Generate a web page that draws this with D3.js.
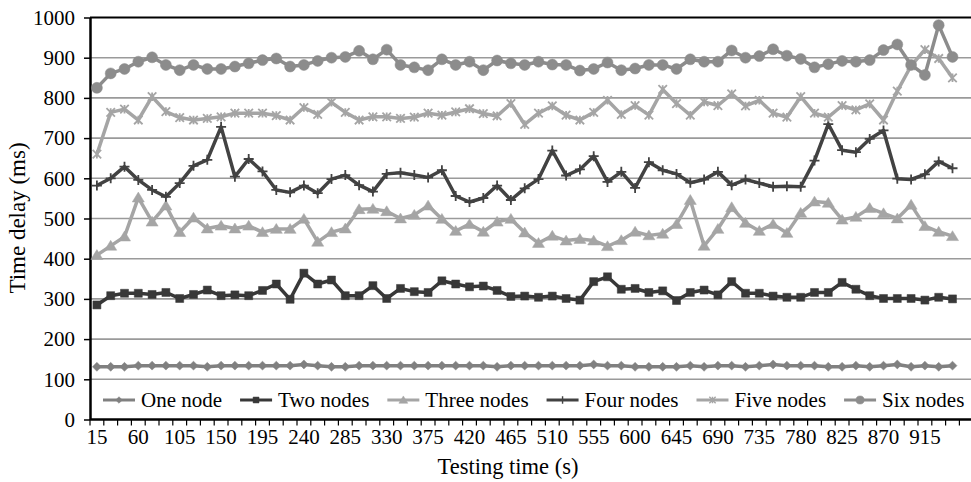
<!DOCTYPE html>
<html>
<head>
<meta charset="utf-8">
<script src="https://cdn.jsdelivr.net/npm/d3@7"></script>
<style>
  body { margin: 0; background: #fff; }
  svg { display: block; }
  text { font-family: "Liberation Serif", "Times New Roman", serif; fill: #000; }
</style>
</head>
<body>
<svg id="chart" width="971" height="482"></svg>
<script>
// ---------- data ----------
const categories = [15,30,45,60,75,90,105,120,135,150,165,180,195,210,225,240,255,270,285,300,315,
  330,345,360,375,390,405,420,435,450,465,480,495,510,525,540,555,570,585,600,615,630,
  645,660,675,690,705,720,735,750,765,780,795,810,825,840,855,870,885,900,915,930,945];
const xTickLabels = [15,60,105,150,195,240,285,330,375,420,465,510,555,600,645,690,735,780,825,870,915];
const yTickValues = [0,100,200,300,400,500,600,700,800,900,1000];
const seriesNames = ["One node","Two nodes","Three nodes","Four nodes","Five nodes","Six nodes"];

const oneNode = [131,131,131,134,134,134,134,134,131,134,134,134,134,134,134,137,134,131,131,134,134,
  134,134,134,134,134,134,134,134,131,134,134,134,134,134,134,137,134,134,131,131,131,
  131,134,131,134,134,131,134,137,134,134,134,131,131,134,131,134,137,131,134,131,134];
const twoNodes = [285,308,314,314,311,316,301,311,322,308,310,308,321,337,299,364,337,347,308,308,333,
  301,326,318,316,345,337,330,332,321,306,307,304,307,301,297,343,355,324,326,316,320,
  296,316,322,310,343,314,314,307,304,304,316,316,341,324,308,301,301,301,297,304,300];
const threeNodes = [409,432,455,552,492,532,466,502,475,482,475,482,466,474,474,499,442,466,475,523,524,
  518,500,509,532,499,469,486,467,492,499,465,439,457,445,449,445,431,446,467,458,462,
  486,546,432,474,528,489,469,486,464,514,542,539,497,504,526,513,500,534,481,467,456];
const fourNodes = [582,600,629,596,571,554,588,631,646,728,604,648,617,571,565,582,563,598,608,583,567,
  611,614,608,602,620,556,541,551,582,546,575,598,669,607,622,655,591,616,576,640,620,
  611,589,597,616,583,597,588,579,580,579,644,735,670,665,698,719,599,597,610,642,625];
const fiveNodes = [660,764,772,745,803,766,751,745,749,753,762,762,762,756,745,776,759,789,764,745,753,
  753,749,752,762,757,765,773,761,755,786,734,762,780,757,745,764,794,759,781,757,821,
  786,757,790,781,810,780,794,762,752,803,762,752,781,770,785,745,817,880,920,898,850];
const sixNodes = [825,861,872,890,901,882,869,882,872,872,878,886,894,898,878,882,892,900,902,917,896,
  920,882,876,869,896,882,890,869,893,886,882,890,883,882,868,872,888,869,873,882,882,
  872,896,890,890,918,900,904,921,905,897,876,884,892,890,894,919,933,882,857,981,902];

// ---------- styling ----------
const colors = ["#808080", "#383838", "#a5a5a5", "#424242", "#a5a5a5", "#8c8c8c"];

const diamond = { draw(ctx, size) { const r = Math.sqrt(size) / 2; ctx.moveTo(0,-r); ctx.lineTo(r,0); ctx.lineTo(0,r); ctx.lineTo(-r,0); ctx.closePath(); } };
const triangle = { draw(ctx, size) { const r = Math.sqrt(size) / 2; ctx.moveTo(0,-r); ctx.lineTo(r*1.1,r*0.8); ctx.lineTo(-r*1.1,r*0.8); ctx.closePath(); } };
const plus = { draw(ctx, size) { const r = Math.sqrt(size) / 2; ctx.moveTo(-r,0); ctx.lineTo(r,0); ctx.moveTo(0,-r); ctx.lineTo(0,r); } };
const asterisk = { draw(ctx, size) { const r = Math.sqrt(size) / 2; ctx.moveTo(-r,-r); ctx.lineTo(r,r); ctx.moveTo(-r,r); ctx.lineTo(r,-r); ctx.moveTo(0,-r); ctx.lineTo(0,r); } };

const markerTypes = [diamond, d3.symbolSquare, triangle, plus, asterisk, d3.symbolCircle];
const markerSizes = [80, 64, 120, 100, 72, 95];
const markerStroked = [false, false, false, true, true, false];

const seriesData = [oneNode, twoNodes, threeNodes, fourNodes, fiveNodes, sixNodes];

// ---------- layout ----------
const svg = d3.select("#chart");
const mLeft = 90, mTop = 17.5, mBottom = 419.5, axisRight = 959.4, plotRight = 971;

const x = d3.scaleBand().domain(categories).range([mLeft, axisRight]).paddingInner(0).paddingOuter(0);
const cx = d => x(d) + x.bandwidth() / 2;
const y = d3.scaleLinear().domain([0, 1000]).range([mBottom, mTop]);

// gridlines
svg.append("g").selectAll("line").data(yTickValues.filter(v => v > 0 && v < 1000)).join("line")
  .attr("x1", mLeft).attr("x2", plotRight)
  .attr("y1", d => y(d)).attr("y2", d => y(d))
  .attr("stroke", "#9a9a9a").attr("stroke-width", 1.6);

// top border
svg.append("line").attr("x1", mLeft).attr("x2", plotRight).attr("y1", y(1000)).attr("y2", y(1000))
  .attr("stroke", "#000").attr("stroke-width", 2);

// y axis
const yAxis = svg.append("g").attr("transform", `translate(${mLeft},0)`)
  .call(d3.axisLeft(y).tickValues(yTickValues).tickFormat(d3.format("d")).tickSize(6).tickPadding(9).tickSizeOuter(0));
yAxis.select(".domain").attr("stroke", "#000").attr("stroke-width", 2.5);
yAxis.selectAll(".tick line").attr("stroke", "#000").attr("stroke-width", 1.5);
yAxis.selectAll("text").attr("font-size", 21).attr("fill", "#000").style("font-family", '"Liberation Serif", serif');

// x axis: baseline
svg.append("line").attr("x1", mLeft).attr("x2", plotRight).attr("y1", mBottom).attr("y2", mBottom)
  .attr("stroke", "#000").attr("stroke-width", 2.5);
// boundary tick marks
const boundaries = categories.map(c => x(c)).concat([x(categories[categories.length - 1]) + x.bandwidth()]);
svg.append("g").selectAll("line").data(boundaries).join("line")
  .attr("x1", d => d).attr("x2", d => d).attr("y1", mBottom).attr("y2", mBottom + 6)
  .attr("stroke", "#000").attr("stroke-width", 1.2);
// labels via axis
const xAxis = svg.append("g").attr("transform", `translate(0,${mBottom})`)
  .call(d3.axisBottom(x).tickValues(xTickLabels).tickSize(0).tickPadding(10));
xAxis.select(".domain").remove();
xAxis.selectAll("text").attr("font-size", 21).attr("fill", "#000").style("font-family", '"Liberation Serif", serif');

// series
const line = d3.line().x((d, i) => cx(categories[i])).y(d => y(d));
seriesData.forEach((vals, s) => {
  const g = svg.append("g");
  g.append("path").datum(vals).attr("d", line).attr("fill", "none")
    .attr("stroke", colors[s]).attr("stroke-width", 3.5).attr("stroke-linejoin", "round");
  const sym = d3.symbol().type(markerTypes[s]).size(markerSizes[s]);
  g.selectAll("path.m").data(vals).join("path").attr("class", "m")
    .attr("transform", (d, i) => `translate(${cx(categories[i])},${y(d)})`)
    .attr("d", sym)
    .attr("fill", markerStroked[s] ? "none" : colors[s])
    .attr("stroke", colors[s])
    .attr("stroke-width", markerStroked[s] ? 1.8 : 0.5);
});

// legend
const legend = svg.append("g");
let lx = 103;
const ly = 400;
seriesNames.forEach((name, s) => {
  const g = legend.append("g");
  g.append("line").attr("x1", lx).attr("x2", lx + 32).attr("y1", ly).attr("y2", ly)
    .attr("stroke", colors[s]).attr("stroke-width", 3);
  g.append("path").attr("transform", `translate(${lx + 16},${ly})`)
    .attr("d", d3.symbol().type(markerTypes[s]).size(markerSizes[s] * 0.55)())
    .attr("fill", markerStroked[s] ? "none" : colors[s])
    .attr("stroke", colors[s]).attr("stroke-width", markerStroked[s] ? 1.4 : 0.5);
  const t = g.append("text").attr("x", lx + 38).attr("y", ly).attr("dy", "0.35em")
    .attr("font-size", 21).text(name);
  lx += 38 + t.node().getComputedTextLength() + 18;
});

// axis titles
svg.append("text").attr("x", 508).attr("y", 474).attr("text-anchor", "middle")
  .attr("font-size", 22.5).text("Testing time (s)");
svg.append("text").attr("transform", "translate(25,218) rotate(-90)").attr("text-anchor", "middle")
  .attr("font-size", 23).text("Time delay (ms)");
</script>
</body>
</html>
